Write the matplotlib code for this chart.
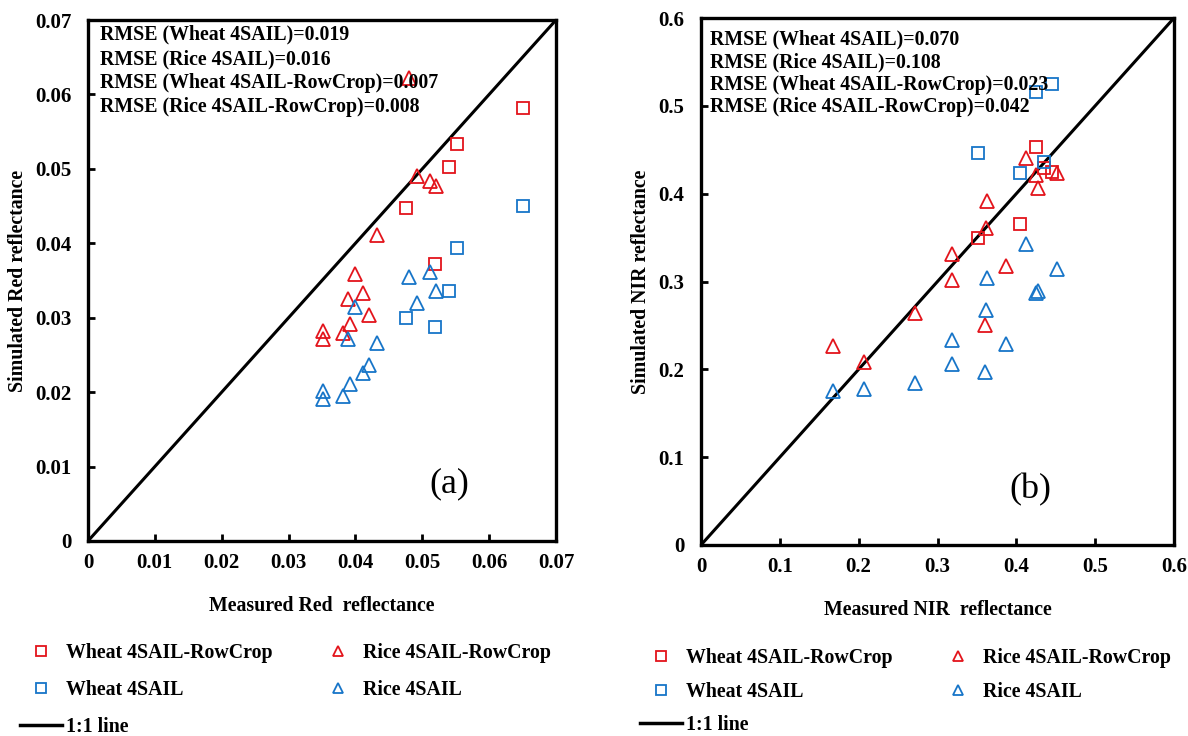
import matplotlib
matplotlib.use("Agg")
import matplotlib.pyplot as plt
from matplotlib.lines import Line2D

# ---- panel (a): red band ----
red_wheat_meas = [0.0475, 0.0519, 0.0540, 0.0552, 0.0650]
red_wheat_rowcrop = [0.0448, 0.0372, 0.0502, 0.0534, 0.0582]
red_wheat_4sail = [0.0300, 0.0288, 0.0336, 0.0393, 0.0450]

red_rice_meas = [0.0351, 0.0351, 0.0382, 0.0389, 0.0392, 0.0400, 0.0412,
                 0.0421, 0.0433, 0.0480, 0.0492, 0.0512, 0.0521]
red_rice_rowcrop = [0.0282, 0.0272, 0.0280, 0.0325, 0.0291, 0.0359, 0.0333,
                    0.0303, 0.0411, 0.0622, 0.0490, 0.0484, 0.0477]
red_rice_4sail = [0.0202, 0.0191, 0.0195, 0.0271, 0.0211, 0.0315, 0.0226,
                  0.0237, 0.0266, 0.0355, 0.0320, 0.0361, 0.0336]

red_ticks = [0, 0.01, 0.02, 0.03, 0.04, 0.05, 0.06, 0.07]
red_ticklabels = ["0", "0.01", "0.02", "0.03", "0.04", "0.05", "0.06", "0.07"]
red_rmse = ["RMSE (Wheat 4SAIL)=0.019", "RMSE (Rice 4SAIL)=0.016",
            "RMSE (Wheat 4SAIL-RowCrop)=0.007", "RMSE (Rice 4SAIL-RowCrop)=0.008"]

# ---- panel (b): NIR band ----
nir_wheat_meas = [0.352, 0.405, 0.425, 0.435, 0.445]
nir_wheat_rowcrop = [0.349, 0.366, 0.453, 0.429, 0.425]
nir_wheat_4sail = [0.446, 0.424, 0.516, 0.436, 0.525]

nir_rice_meas = [0.168, 0.207, 0.271, 0.318, 0.318, 0.360, 0.362,
                 0.363, 0.387, 0.412, 0.425, 0.427, 0.452]
nir_rice_rowcrop = [0.227, 0.208, 0.264, 0.331, 0.302, 0.251, 0.361,
                    0.392, 0.318, 0.441, 0.421, 0.406, 0.423]
nir_rice_4sail = [0.175, 0.178, 0.185, 0.233, 0.206, 0.197, 0.267,
                  0.304, 0.229, 0.343, 0.287, 0.289, 0.314]

nir_ticks = [0, 0.1, 0.2, 0.3, 0.4, 0.5, 0.6]
nir_ticklabels = ["0", "0.1", "0.2", "0.3", "0.4", "0.5", "0.6"]
nir_rmse = ["RMSE (Wheat 4SAIL)=0.070", "RMSE (Rice 4SAIL)=0.108",
            "RMSE (Wheat 4SAIL-RowCrop)=0.023", "RMSE (Rice 4SAIL-RowCrop)=0.042"]

RED = "#E3141B"
BLUE = "#1775C8"
FS = 14.3       # legend / rmse / axis labels
TICK_FS = 15

plt.rcParams['font.family'] = ['Liberation Serif', 'DejaVu Serif']
plt.rcParams['font.weight'] = 'bold'

W, H = 1188, 736
fig = plt.figure(figsize=(W / 100, H / 100), dpi=100)


def px_axes(l, t, r, b):
    return fig.add_axes([l / W, 1 - b / H, (r - l) / W, (b - t) / H])


def draw_panel(ax, wm, wr, ws, rm, rr, rs, ticks, ticklabels, rmse, rmse_x, rmse_y,
               tag, tag_xy, xlabel, ylabel, leg_anchor, leg_spacing):
    lim = ticks[-1]
    ax.plot([0, lim], [0, lim], color='black', lw=2.2)
    ax.plot(wm, wr, ls='none', marker='s', ms=9, mfc='none', mec=RED, mew=1.3)
    ax.plot(wm, ws, ls='none', marker='s', ms=9, mfc='none', mec=BLUE, mew=1.3)
    ax.plot(rm, rr, ls='none', marker='^', ms=9.5, mfc='none', mec=RED, mew=1.3)
    ax.plot(rm, rs, ls='none', marker='^', ms=9.5, mfc='none', mec=BLUE, mew=1.3)
    ax.set_xlim(0, lim)
    ax.set_ylim(0, lim)
    ax.set_xticks(ticks)
    ax.set_xticklabels(ticklabels)
    ax.set_yticks(ticks)
    ax.set_yticklabels(ticklabels)
    ax.tick_params(direction='in', length=5, width=2, labelsize=TICK_FS)
    ax.tick_params(axis='x', pad=9)
    ax.tick_params(axis='y', pad=12)
    for s in ax.spines.values():
        s.set_linewidth(2.4)
    ax.set_xlabel(xlabel, fontsize=FS, fontweight='bold', labelpad=16)
    ax.set_ylabel(ylabel, fontsize=FS, fontweight='bold', labelpad=5)
    for txt, yy in zip(rmse, rmse_y):
        ax.text(rmse_x, yy, txt, transform=ax.transAxes, fontsize=FS,
                fontweight='bold', va='center', ha='left')
    ax.text(tag_xy[0], tag_xy[1], tag, transform=ax.transAxes, fontsize=26,
            fontweight='normal', ha='center', va='center')

    handles = [
        Line2D([], [], ls='none', marker='s', ms=7, mfc='none', mec=RED, mew=1.3),
        Line2D([], [], ls='none', marker='s', ms=7, mfc='none', mec=BLUE, mew=1.3),
        Line2D([], [], color='black', lw=2.5),
        Line2D([], [], ls='none', marker='^', ms=7.5, mfc='none', mec=RED, mew=1.3),
        Line2D([], [], ls='none', marker='^', ms=7.5, mfc='none', mec=BLUE, mew=1.3),
    ]
    labels = ["Wheat 4SAIL-RowCrop", "Wheat 4SAIL", "1:1 line",
              "Rice 4SAIL-RowCrop", "Rice 4SAIL"]
    ax.legend(handles, labels, ncol=2, loc='upper left', frameon=False,
              bbox_to_anchor=(leg_anchor[0] / W, 1 - leg_anchor[1] / H),
              bbox_transform=fig.transFigure, borderpad=0, borderaxespad=0,
              handlelength=2.13, handletextpad=0.2, columnspacing=2.2,
              labelspacing=leg_spacing, prop={'size': FS, 'weight': 'bold'})


ax1 = px_axes(88, 20, 556, 541)
draw_panel(ax1, red_wheat_meas, red_wheat_rowcrop, red_wheat_4sail,
           red_rice_meas, red_rice_rowcrop, red_rice_4sail,
           red_ticks, red_ticklabels, red_rmse, 0.026,
           [(541 - y) / 521 for y in (34, 59, 83, 107)],
           "(a)", (0.773, 0.109),
           "Measured Red  reflectance", "Simulated Red reflectance", (20, 643), 0.86)

ax2 = px_axes(701, 18, 1174, 545)
draw_panel(ax2, nir_wheat_meas, nir_wheat_rowcrop, nir_wheat_4sail,
           nir_rice_meas, nir_rice_rowcrop, nir_rice_4sail,
           nir_ticks, nir_ticklabels, nir_rmse, 0.019,
           [(545 - y) / 527 for y in (39, 62, 85, 107)],
           "(b)", (0.696, 0.104),
           "Measured NIR  reflectance", "Simulated NIR reflectance", (640, 648), 0.68)

fig.savefig("out.png", dpi=100)
